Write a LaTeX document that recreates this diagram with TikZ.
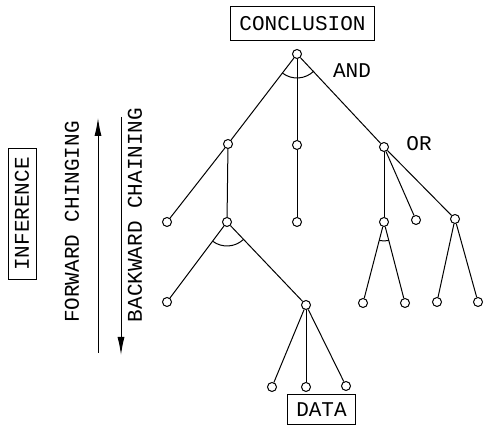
\documentclass[tikz,border=0pt]{standalone}
\usepackage{fontspec}
\setmonofont{Liberation Mono}
\usetikzlibrary{arrows.meta}

\begin{document}
\begin{tikzpicture}[x=1pt,y=1pt,line width=1pt,
    font=\fontsize{21}{25}\selectfont\ttfamily,
    vertex/.style={draw,circle,inner sep=0pt,minimum size=9pt},
    labelbox/.style={draw,inner xsep=9pt,inner ysep=0pt},
    chain/.style={-{Latex[length=18pt,width=7pt]}}]
    \useasboundingbox (0,0) rectangle (488,427);

    % boxed labels and texts
    \node[labelbox,minimum height=34pt] (conclusion) at (302.5,403) {CONCLUSION};
    \node[labelbox,minimum height=30pt] (data) at (321.5,17) {DATA};
    \node[labelbox,minimum height=28pt,rotate=90] (inference) at (22,213) {INFERENCE};
    \node[rotate=90] (forward) at (72,205) {FORWARD CHINGING};
    \node[rotate=90] (backward) at (135,212) {BACKWARD CHAINING};
    \node (and) at (352,356) {AND};
    \node (or) at (419,283) {OR};

    % chaining arrows
    \coordinate (fwd bottom) at (98,74);
    \coordinate (fwd top) at (98,309);
    \coordinate (bwd top) at (121,310);
    \coordinate (bwd bottom) at (121,72);
    \draw[chain] (fwd bottom) -- (fwd top);
    \draw[chain] (bwd top) -- (bwd bottom);

    % tree nodes
    \node[vertex] (root) at (297,373) {};
    \node[vertex] (a) at (228,283) {};
    \node[vertex] (b) at (297,282) {};
    \node[vertex] (c) at (384,280) {};
    \node[vertex] (a1) at (167,205) {};
    \node[vertex] (a2) at (227,205) {};
    \node[vertex] (b1) at (297,205) {};
    \node[vertex] (c1) at (384,205) {};
    \node[vertex] (c2) at (416,207) {};
    \node[vertex] (c3) at (455,208) {};
    \node[vertex] (a21) at (167,125) {};
    \node[vertex] (a22) at (306,122) {};
    \node[vertex] (c11) at (363,124) {};
    \node[vertex] (c12) at (405,124) {};
    \node[vertex] (c31) at (437,125) {};
    \node[vertex] (c32) at (478,125) {};
    \node[vertex] (d1) at (272,40) {};
    \node[vertex] (d2) at (306,40) {};
    \node[vertex] (d3) at (346,41) {};

    % tree edges
    \foreach \p/\q in {root/a,root/b,root/c,a/a1,a/a2,b/b1,c/c1,c/c2,c/c3,
        a2/a21,a2/a22,c1/c11,c1/c12,c3/c31,c3/c32,a22/d1,a22/d2,a22/d3}
        \draw (\p) -- (\q);

    % AND arcs
    \draw (root.center) ++(232.5:24) arc[start angle=232.5,end angle=314.7,radius=24];
    \draw (a2.center) ++(233.1:24) arc[start angle=233.1,end angle=313.9,radius=24];
    \draw (c1.center) ++(255.5:19) arc[start angle=255.5,end angle=284.7,radius=19];
\end{tikzpicture}
\end{document}
